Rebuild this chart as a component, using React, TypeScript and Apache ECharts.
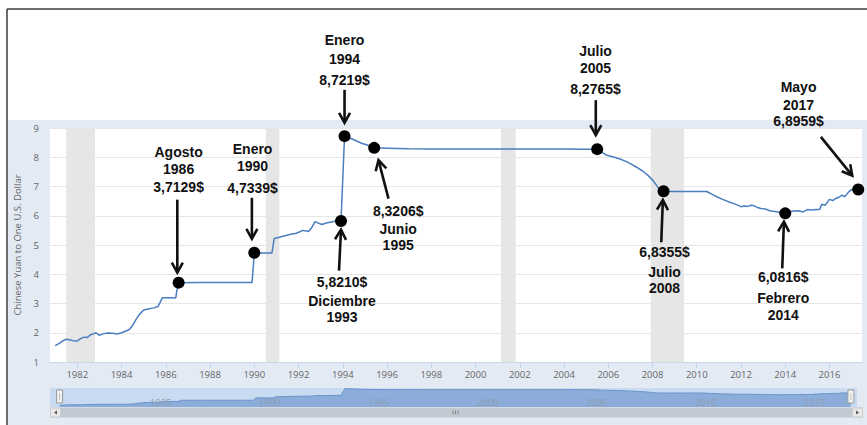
import React, { useEffect, useRef } from "react";
import * as echarts from "echarts";

// ---- data (decimal years, CNY per USD) ----
const dates = [
  1981.0, 1981.15, 1981.3, 1981.5, 1981.65, 1981.8, 1982.0, 1982.15, 1982.3, 1982.45, 1982.6, 1982.75, 1982.85,
  1983.0, 1983.2, 1983.4, 1983.6, 1983.8, 1984.0, 1984.2, 1984.35, 1984.5, 1984.65, 1984.8, 1985.0, 1985.2,
  1985.45, 1985.65, 1985.75, 1985.85, 1986.0, 1986.3, 1986.45, 1986.5, 1986.58, 1987.5, 1988.5, 1989.5, 1989.9,
  1990.0, 1990.5, 1990.8, 1990.9, 1991.0, 1991.3, 1991.6, 1991.9, 1992.2, 1992.45, 1992.6, 1992.75, 1992.9,
  1993.05, 1993.3, 1993.5, 1993.7, 1993.92, 1994.08, 1994.2, 1994.5, 1994.85, 1995.1, 1995.42, 1996.0, 1997.0,
  1998.0, 1999.0, 2000.0, 2001.0, 2002.0, 2003.0, 2004.0, 2005.0, 2005.5, 2005.9, 2006.2, 2006.5, 2006.8, 2007.0,
  2007.3, 2007.55, 2007.8, 2008.0, 2008.2, 2008.35, 2008.5, 2009.0, 2009.5, 2010.0, 2010.45, 2010.7, 2010.9,
  2011.2, 2011.5, 2011.8, 2012.0, 2012.15, 2012.3, 2012.45, 2012.6, 2012.75, 2012.9, 2013.1, 2013.3, 2013.6,
  2013.8, 2014.0, 2014.2, 2014.4, 2014.6, 2014.8, 2015.0, 2015.2, 2015.4, 2015.55, 2015.65, 2015.8, 2016.0,
  2016.15, 2016.3, 2016.45, 2016.55, 2016.7, 2016.85, 2017.0, 2017.15, 2017.3,
];
const rates = [
  1.56, 1.62, 1.7, 1.78, 1.76, 1.73, 1.72, 1.8, 1.85, 1.84, 1.93, 1.97, 2.0,
  1.91, 1.97, 1.99, 1.98, 1.96, 2.0, 2.06, 2.11, 2.25, 2.45, 2.62, 2.78, 2.81,
  2.85, 2.9, 3.05, 3.2, 3.2, 3.2, 3.19, 3.45, 3.7129, 3.72, 3.72, 3.72, 3.72,
  4.7339, 4.73, 4.73, 5.22, 5.24, 5.3, 5.36, 5.4, 5.5, 5.46, 5.6, 5.8, 5.75,
  5.7, 5.76, 5.79, 5.82, 5.821, 8.7219, 8.7, 8.6, 8.48, 8.42, 8.3206, 8.31, 8.29,
  8.28, 8.28, 8.28, 8.28, 8.28, 8.28, 8.28, 8.2765, 8.2765, 8.08, 8.02, 7.95, 7.86, 7.78,
  7.65, 7.53, 7.38, 7.22, 7.02, 6.88, 6.8355, 6.83, 6.83, 6.83, 6.83, 6.73, 6.65,
  6.55, 6.46, 6.38, 6.31, 6.33, 6.32, 6.36, 6.34, 6.28, 6.25, 6.23, 6.17, 6.14,
  6.11, 6.0816, 6.14, 6.16, 6.17, 6.13, 6.21, 6.2, 6.21, 6.21, 6.39, 6.36, 6.56,
  6.52, 6.6, 6.64, 6.7, 6.66, 6.8, 6.9, 6.87, 6.8959,
];

const eventDates = [1986.58, 1990.0, 1993.92, 1994.08, 1995.42, 2005.5, 2008.5, 2014.0, 2017.3];
const eventRates = [3.7129, 4.7339, 5.821, 8.7219, 8.3206, 8.2765, 6.8355, 6.0816, 6.8959];
const eventLabels = [
  ["Agosto", "1986", "3,7129$"],
  ["Enero", "1990", "4,7339$"],
  ["5,8210$", "Diciembre", "1993"],
  ["Enero", "1994", "8,7219$"],
  ["8,3206$", "Junio", "1995"],
  ["Julio", "2005", "8,2765$"],
  ["6,8355$", "Julio", "2008"],
  ["6,0816$", "Febrero", "2014"],
  ["Mayo", "2017", "6,8959$"],
];

const xTickYears = [1982, 1984, 1986, 1988, 1990, 1992, 1994, 1996, 1998, 2000, 2002, 2004, 2006, 2008, 2010, 2012, 2014, 2016];
const navTickYears = [1985, 1990, 1995, 2000, 2005, 2010, 2015];
const recessionStarts = [1981.5, 1990.52, 2001.15, 2007.92];
const recessionEnds = [1982.8, 1991.13, 2001.82, 2009.43];
const yAxisTitle = "Chinese Yuan to One U.S. Dollar";

// ---- layout of annotations, relative to their dot (pixels) ----
const annotLayout = [
  { dx: 0, dys: [-131, -114, -96], tail: [-1.3, -83], tip: [-1.3, -10] },
  { dx: -1.7, dys: [-104, -86.6, -65], tail: [-2.4, -55], tip: [-2.4, -14] },
  { dx: 1, dys: [60.6, 79.6, 96.3], tail: [-2, 49.6], tip: [0, 8.6] },
  { dx: 0, dys: [-96.6, -77.3, -56.3], tail: [0, -46.3], tip: [0, -13.3] },
  { dx: 24, dys: [63, 80.7, 97.3], tail: [14.3, 50.7], tip: [4.3, 12.3] },
  { dx: -1.7, dys: [-98, -81, -60.3], tail: [-1.4, -49], tip: [-1.4, -14] },
  { dx: 1, dys: [61, 81, 96.6], tail: [-2.3, 51], tip: [-0.7, 8.6] },
  { dx: -2, dys: [63.3, 85, 101.3], tail: [-3, 55], tip: [-1.3, 8.3] },
  { dx: -59.7, dys: [-102.4, -85, -68.4], tail: [-37.4, -52.7], tip: [-6, -14] },
];

const AXIS_FONT = '"Open Sans", "DejaVu Sans", sans-serif';
const ANNOT_FONT = 'bold 14px "Liberation Sans", Arial, sans-serif';

function buildOption(): any {
  const series = dates.map((d, i) => [d, rates[i]]);
  const events = eventDates.map((d, i) => [d, eventRates[i]]);
  return {
    animation: false,
    backgroundColor: "#ffffff",
    grid: [
      { left: 50, right: 5, top: 128, height: 234, show: true, backgroundColor: "#ffffff", borderWidth: 0 },
      { left: 50, right: 10, top: 388, height: 19, show: true, backgroundColor: "#c8dbf0", borderWidth: 0 },
    ],
    xAxis: [
      {
        type: "value",
        gridIndex: 0,
        min: 1980.766,
        max: 2017.47,
        axisLine: { show: true, lineStyle: { color: "#ccd6eb", width: 1 } },
        axisTick: { show: true, length: 6, lineStyle: { color: "#ccd6eb" }, customValues: xTickYears },
        axisLabel: {
          customValues: xTickYears,
          color: "#666666",
          fontSize: 9.5,
          fontFamily: AXIS_FONT,
          margin: 7,
          formatter: (v: number) => String(Math.round(v)),
        },
        splitLine: { show: false },
      },
      {
        type: "value",
        gridIndex: 1,
        z: 10,
        min: 1980.56,
        max: 2017.58,
        axisLine: { show: false },
        axisTick: { show: false },
        axisLabel: {
          customValues: navTickYears,
          inside: true,
          margin: 0,
          align: "left",
          padding: [0, 0, 0, 3],
          color: "#8e9cb2",
          fontSize: 9.5,
          fontFamily: AXIS_FONT,
          formatter: (v: number) => String(Math.round(v)),
        },
        splitLine: { show: false },
      },
    ],
    yAxis: [
      {
        type: "value",
        gridIndex: 0,
        min: 1,
        max: 9,
        interval: 1,
        name: yAxisTitle,
        nameLocation: "middle",
        nameGap: 28,
        nameTextStyle: { color: "#666666", fontSize: 9.5, fontFamily: AXIS_FONT },
        axisLine: { show: false },
        axisTick: { show: false },
        axisLabel: { color: "#666666", fontSize: 9.5, fontFamily: AXIS_FONT, margin: 11 },
        splitLine: { show: true, lineStyle: { color: "#e6e6e6", width: 1 } },
      },
      {
        type: "value",
        gridIndex: 1,
        min: 0.8,
        max: 9,
        show: false,
        splitLine: { show: false },
      },
    ],
    series: [
      {
        type: "line",
        xAxisIndex: 0,
        yAxisIndex: 0,
        data: series,
        showSymbol: false,
        lineStyle: { color: "#4a7ebf", width: 1.5 },
        itemStyle: { color: "#4a7ebf" },
        z: 3,
        markArea: {
          silent: true,
          itemStyle: { color: "#e6e6e6" },
          data: recessionStarts.map((s, i) => [{ xAxis: s }, { xAxis: recessionEnds[i] }]),
        },
      },
      {
        type: "scatter",
        xAxisIndex: 0,
        yAxisIndex: 0,
        data: events,
        symbolSize: 12,
        itemStyle: { color: "#000000", opacity: 1 },
        z: 5,
      },
      {
        type: "line",
        xAxisIndex: 1,
        yAxisIndex: 1,
        data: series,
        showSymbol: false,
        lineStyle: { color: "#6b93cc", width: 1 },
        areaStyle: { color: "#8cadd9", opacity: 1 },
        z: 1,
      },
    ],
  };
}

function buildGraphics(chart: any): any[] {
  const g: any[] = [];
  // panel background and frame
  g.push({ type: "rect", z: -5, silent: true, shape: { x: 8, y: 120, width: 859, height: 305 }, style: { fill: "#e4eaf3" } });
  g.push({ type: "line", z: 20, silent: true, shape: { x1: 7, y1: 9, x2: 867, y2: 9 }, style: { stroke: "#3c3c3c", lineWidth: 1.5 } });
  g.push({ type: "line", z: 20, silent: true, shape: { x1: 7, y1: 9, x2: 7, y2: 425 }, style: { stroke: "#3c3c3c", lineWidth: 1.5 } });

  // navigator handles
  const navStart = chart.convertToPixel({ seriesIndex: 2 }, [dates[0], rates[0]]);
  const navEnd = chart.convertToPixel({ seriesIndex: 2 }, [dates[dates.length - 1], rates[rates.length - 1]]);
  [navStart[0], navEnd[0]].forEach((hx: number) => {
    g.push({ type: "rect", z: 10, shape: { x: hx - 3, y: 390, width: 6, height: 13 }, style: { fill: "#f2f2f2", stroke: "#999999", lineWidth: 1 } });
    g.push({ type: "line", z: 11, shape: { x1: hx, y1: 393, x2: hx, y2: 400 }, style: { stroke: "#bbbbbb", lineWidth: 1 } });
  });

  // scrollbar
  g.push({ type: "rect", z: 5, shape: { x: 50, y: 407.5, width: 813, height: 10 }, style: { fill: "#c2c9d3" } });
  g.push({ type: "rect", z: 6, shape: { x: 50.5, y: 408, width: 10, height: 9 }, style: { fill: "#e8e8e8", stroke: "#cccccc", lineWidth: 1 } });
  g.push({ type: "rect", z: 6, shape: { x: 852.5, y: 408, width: 10, height: 9 }, style: { fill: "#e8e8e8", stroke: "#cccccc", lineWidth: 1 } });
  g.push({ type: "polygon", z: 7, shape: { points: [[54, 412.5], [57, 410.5], [57, 414.5]] }, style: { fill: "#555555" } });
  g.push({ type: "polygon", z: 7, shape: { points: [[859, 412.5], [856, 410.5], [856, 414.5]] }, style: { fill: "#555555" } });
  [453, 455.5, 458].forEach((gx) => {
    g.push({ type: "line", z: 7, shape: { x1: gx, y1: 410.5, x2: gx, y2: 414.5 }, style: { stroke: "#888888", lineWidth: 1 } });
  });

  // annotations
  eventDates.forEach((d, i) => {
    const [px, py] = chart.convertToPixel({ seriesIndex: 1 }, [d, eventRates[i]]);
    const L = annotLayout[i];
    eventLabels[i].forEach((t, j) => {
      g.push({
        type: "text",
        z: 30,
        x: px + L.dx,
        y: py + L.dys[j],
        style: {
          text: t,
          font: ANNOT_FONT,
          fill: "#111111",
          textAlign: "center",
          textVerticalAlign: "middle",
          align: "center",
          verticalAlign: "middle",
        },
      });
    });
    const tx = px + L.tail[0], ty = py + L.tail[1];
    const hx = px + L.tip[0], hy = py + L.tip[1];
    const len = Math.hypot(hx - tx, hy - ty);
    const ux = (hx - tx) / len, uy = (hy - ty) / len;
    const nx = -uy, ny = ux;
    const AL = 10, AW = 5.5;
    g.push({ type: "line", z: 30, shape: { x1: tx, y1: ty, x2: hx - ux * 1.5, y2: hy - uy * 1.5 }, style: { stroke: "#111111", lineWidth: 2.6 } });
    g.push({
      type: "polyline",
      z: 30,
      shape: {
        points: [
          [hx - ux * AL + nx * AW, hy - uy * AL + ny * AW],
          [hx, hy],
          [hx - ux * AL - nx * AW, hy - uy * AL - ny * AW],
        ],
      },
      style: { stroke: "#111111", lineWidth: 2.6, fill: null, lineJoin: "miter" },
    });
  });
  return g;
}

export default function App() {
  const ref = useRef<HTMLDivElement>(null);
  useEffect(() => {
    const chart = echarts.init(ref.current!, null, { renderer: "svg" });
    chart.setOption(buildOption());
    chart.setOption({ graphic: { elements: buildGraphics(chart) } });
    return () => chart.dispose();
  }, []);
  return (
    <div
      ref={ref}
      style={{ position: "fixed", left: 0, top: 0, width: 867, height: 425, background: "#ffffff" }}
    />
  );
}
